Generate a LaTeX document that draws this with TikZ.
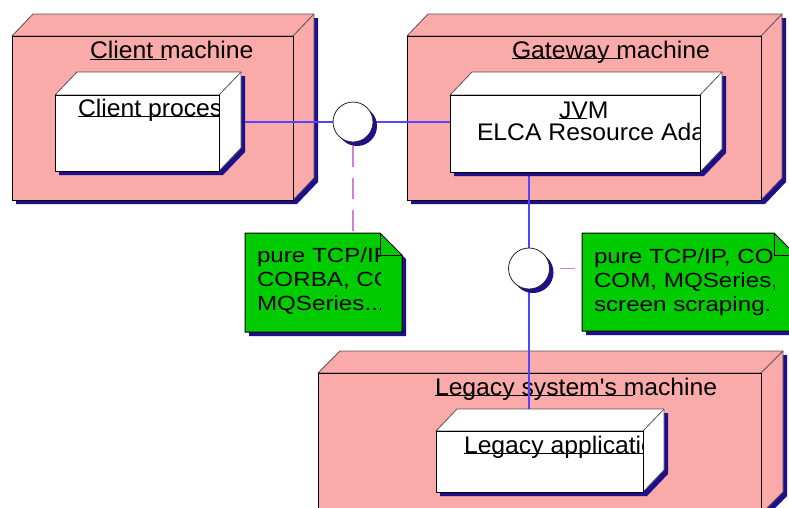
\documentclass[tikz,border=0pt]{standalone}
\usepackage{fontspec}
\newfontfamily\labelfont[FakeStretch=1.03]{Liberation Sans}
\newfontfamily\notefont[FakeStretch=1.18]{Liberation Sans}
\usetikzlibrary{shadows}

\definecolor{nodepink}{RGB}{250,170,168}
\definecolor{dropshadow}{RGB}{30,15,140}
\definecolor{notegreen}{RGB}{0,204,0}
\definecolor{wireblue}{RGB}{80,70,255}
\definecolor{linkpink}{RGB}{205,130,210}
\definecolor{edgegrey}{RGB}{90,80,80}

\pgfdeclarelayer{paper}
\pgfdeclarelayer{machines}
\pgfdeclarelayer{wires}
\pgfsetlayers{paper,machines,wires,main}

% 3D deployment box drawn around an (invisible) front-face node:
% #1 node name, #2 depth to the right, #3 depth upwards, #4 fill colour
\newcommand\cube[4]{%
  \fill[dropshadow] ([shift={(4,4)}]#1.south west) -- ([shift={(4,4)}]#1.north west)
    -- ([shift={(4+#2,4-#3)}]#1.north west) -- ([shift={(4+#2,4-#3)}]#1.north east)
    -- ([shift={(4+#2,4-#3)}]#1.south east) -- ([shift={(4,4)}]#1.south east) -- cycle;
  \filldraw[fill=#4, draw=edgegrey, line width=0.8pt, line join=round]
    (#1.north west) -- ([shift={(#2,-#3)}]#1.north west) -- ([shift={(#2,-#3)}]#1.north east)
    -- ([shift={(#2,-#3)}]#1.south east) -- (#1.south east) -- (#1.north east) -- cycle;
  \draw[edgegrey, line width=0.8pt] (#1.north east) -- ([shift={(#2,-#3)}]#1.north east);
  \filldraw[fill=#4, draw=black, line width=1pt] (#1.south west) rectangle (#1.north east);
}

% note sheet with a folded corner: #1 node name, #2 fold size
\newcommand\notesheet[2]{%
  \fill[dropshadow] ([shift={(4,4)}]#1.south west) -- ([shift={(4,4)}]#1.north west)
    -- ([shift={(4-#2,4)}]#1.north east) -- ([shift={(4,4+#2)}]#1.north east)
    -- ([shift={(4,4)}]#1.south east) -- cycle;
  \filldraw[fill=notegreen, draw=black, line width=1pt, line join=miter]
    (#1.south west) -- (#1.north west) -- ([shift={(-#2,0)}]#1.north east)
    -- ([shift={(0,#2)}]#1.north east) -- (#1.south east) -- cycle;
  \draw[black, line width=1pt] ([shift={(-#2,0)}]#1.north east)
    -- ([shift={(-#2,#2)}]#1.north east) -- ([shift={(0,#2)}]#1.north east);
}

\begin{document}
\begin{tikzpicture}[x=1pt, y=-1pt,
  frame/.style={rectangle, inner sep=0pt, outer sep=0pt},
  bigtext/.style={font=\labelfont\fontsize{24}{28}\selectfont, inner sep=0pt, outer sep=0pt, anchor=base west},
  notetext/.style={font=\notefont\fontsize{20.5}{24}\selectfont, inner sep=0pt, outer sep=0pt, anchor=base west},
  uline/.style={black, line width=1pt},
  iface/.style={circle, draw=black!85, fill=white, line width=0.8pt, minimum size=40pt, inner sep=0pt,
    drop shadow={shadow xshift=4pt, shadow yshift=-4pt, fill=dropshadow, opacity=1}},
  wire/.style={wireblue, line width=1.2pt},
  link/.style={linkpink, line width=1.3pt}]

\useasboundingbox (0,0) rectangle (789,507);
\begin{pgfonlayer}{paper}
  \fill[white] (0,0) rectangle (789,507);
\end{pgfonlayer}

% machines
\begin{pgfonlayer}{machines}
  \node[frame, minimum width=281pt, minimum height=164pt] (cm) at (152.5,118) {};
  \cube{cm}{21}{22}{nodepink}
  \node[frame, minimum width=354pt, minimum height=164pt] (gm) at (584,118) {};
  \cube{gm}{21}{22}{nodepink}
  \node[frame, minimum width=443pt, minimum height=141pt] (lm) at (539.5,443.5) {};
  \cube{lm}{22}{22}{nodepink}

  \node[bigtext] (cmT) at (90,58) {Client machine};
  \draw[uline] ([yshift=-1pt]cmT.base west) -- ++(77,0);
  \node[bigtext] (gmT) at (512,58) {Gateway machine};
  \draw[uline] ([yshift=-0.5pt]gmT.base west) -- ++(111,0);
  \node[bigtext] (lmT) at (435,395) {Legacy system's machine};
  \draw[uline] ([yshift=-0.5pt]lmT.base west) -- ++(198,0);
\end{pgfonlayer}

% components inside the machines
\node[frame, minimum width=164pt, minimum height=76pt] (cp) at (137,133) {};
\cube{cp}{22}{23}{white}
\begin{scope}
  \clip (cp.south west) rectangle (cp.north east);
  \node[bigtext] (cpT) at (78,116) {Client process};
  \draw[uline] ([yshift=-0.5pt]cpT.base west) -- ([yshift=-0.5pt]cpT.base west -| cp.east);
\end{scope}

\node[frame, minimum width=250pt, minimum height=77pt] (jvm) at (575,133.5) {};
\cube{jvm}{22}{23}{white}
\begin{scope}
  \clip (jvm.south west) rectangle (jvm.north east);
  \node[bigtext] (jvmT) at (559,118) {JVM};
  \draw[uline] ([yshift=-0.5pt]jvmT.base west) -- ++(28,0);
  \node[bigtext] (elca) at (477,140) {ELCA Resource Adapter};
\end{scope}

\node[frame, minimum width=207pt, minimum height=61pt] (la) at (539.5,461.5) {};
\cube{la}{21}{22}{white}
\begin{scope}
  \clip (la.south west) rectangle (la.north east);
  \node[bigtext] (laT) at (464,453) {Legacy application};
  \draw[uline] ([yshift=-0.5pt]laT.base west) -- ([yshift=-0.5pt]laT.base west -| la.east);
\end{scope}

% interfaces
\node[iface] (c1) at (353,122) {};
\node[iface, minimum size=41pt] (c2) at (529,268.5) {};

% notes
\node[frame, minimum width=157pt, minimum height=99pt] (n1) at (323.5,282.5) {};
\notesheet{n1}{22}
\begin{scope}
  \clip (n1.south west) rectangle ([xshift=-22pt]n1.north east);
  \node[notetext] (n1a) at (257,262) {pure TCP/IP,};
  \node[notetext] (n1b) at (257,286) {CORBA, COM,};
  \node[notetext] (n1c) at (257,310) {MQSeries...};
\end{scope}

\node[frame, minimum width=214pt, minimum height=98pt] (n2) at (689,282) {};
\notesheet{n2}{22}
\begin{scope}
  \clip (n2.south west) rectangle ([xshift=-22pt]n2.north east);
  \node[notetext] (n2a) at (594,263) {pure TCP/IP, CORBA,};
  \node[notetext] (n2b) at (594,287) {COM, MQSeries,};
  \node[notetext] (n2c) at (594,311) {screen scraping.};
\end{scope}

% connectors
\begin{pgfonlayer}{wires}
  \draw[wire] (cp.east |- c1) -- (c1);
  \draw[wire] (c1) -- (jvm.west |- c1);
  \draw[wire] (c2 |- jvm.south) -- (c2);
  \draw[wire] (c2) -- (c2 |- la.north);
  \draw[link, dash pattern=on 21pt off 11pt, dash phase=28pt] (c1) -- (c1 |- n1.north);
  \draw[link, dash pattern=on 15pt off 10pt, dash phase=15pt] (c2) -- (c2 -| n2.west);
\end{pgfonlayer}
\end{tikzpicture}
\end{document}
